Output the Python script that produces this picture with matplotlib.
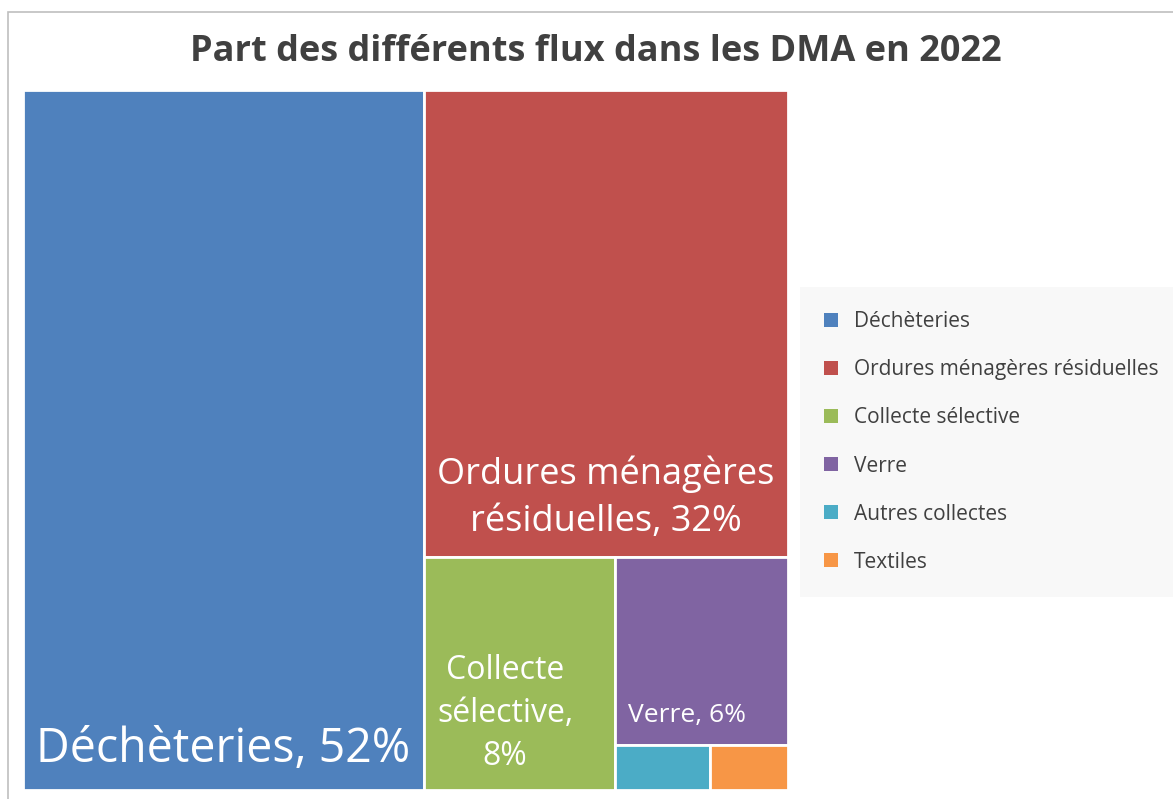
import matplotlib.pyplot as plt
from matplotlib.patches import Rectangle, Patch

# Part des flux dans les DMA 2022 (en %)
categories = ['Déchèteries', 'Ordures ménagères résiduelles', 'Collecte sélective',
              'Verre', 'Autres collectes', 'Textiles']
values = [52.4, 31.7, 8.3, 6.1, 0.8, 0.65]
labels = ['Déchèteries, 52%', 'Ordures ménagères\nrésiduelles, 32%', 'Collecte\nsélective,\n8%',
          'Verre, 6%', '', '']
colors = ['#4f81bd', '#c0504d', '#9bbb59', '#8064a2', '#4bacc6', '#f79646']
label_sizes = [33.5, 26, 23, 19, 10, 10]

plt.rcParams['font.family'] = ['Open Sans', 'DejaVu Sans']

W, H = 765.0, 700.0  # zone du treemap (unités pixels)


def worst(row, side):
    s = sum(row)
    return max(max(side * side * r / (s * s), s * s / (side * side * r)) for r in row)


def squarify(areas, x, y, w, h):
    # algorithme squarified (Bruls et al.), y vers le bas
    rects = []
    areas = list(areas)
    while areas:
        side = min(w, h)
        row = [areas[0]]
        i = 1
        while i < len(areas) and worst(row + [areas[i]], side) <= worst(row, side):
            row.append(areas[i])
            i += 1
        areas = areas[i:]
        s = sum(row)
        if w >= h:
            # colonne à gauche
            cw = s / h
            yy = y
            for r in row:
                rects.append((x, yy, cw, r / cw))
                yy += r / cw
            x += cw
            w -= cw
        else:
            # ligne en haut
            rh = s / w
            xx = x
            for r in row:
                rects.append((xx, y, r / rh, rh))
                xx += r / rh
            y += rh
            h -= rh
    return rects


total = sum(values)
areas = [v / total * W * H for v in values]
rects = squarify(areas, 0, 0, W, H)

fig = plt.figure(figsize=(11.73, 7.99), dpi=100)
ax = fig.add_axes([23 / 1173, 9 / 799, W / 1173, H / 799])
ax.set_xlim(0, W)
ax.set_ylim(H, 0)
ax.axis('off')

for (x, y, w, h), c, lab, fs in zip(rects, colors, labels, label_sizes):
    ax.add_patch(Rectangle((x, y), w, h, facecolor=c, edgecolor='white', linewidth=2))
    if lab:
        ax.text(x + 13, y + h - 17, lab, color='white', fontsize=fs,
                ha='left', va='bottom', multialignment='center', linespacing=1.4)

# cadre gris du graphique
fig.patches.append(Rectangle((8 / 1173, -0.1), 1.2, (799 - 12) / 799 + 0.1,
                             transform=fig.transFigure, fill=False,
                             edgecolor='#bfbfbf', linewidth=1.2))

fig.text(596 / 1173, 1 - 52 / 799, 'Part des différents flux dans les DMA en 2022',
         ha='center', va='center', fontsize=26, fontweight='bold', color='#404040')

handles = [Patch(facecolor=c, edgecolor='none') for c in colors]
leg = fig.legend(handles, categories, loc='center left',
                 bbox_to_anchor=(800 / 1173, 1 - 442 / 799), frameon=True,
                 fontsize=15, labelcolor='#404040', handlelength=0.67, handleheight=0.67,
                 handletextpad=0.77, labelspacing=1.3, borderpad=1.15, borderaxespad=0)
leg.get_frame().set_facecolor('#f7f7f7')
leg.get_frame().set_edgecolor('none')
leg.get_frame().set_boxstyle('square', pad=0)

fig.savefig('out.png', dpi=100)
